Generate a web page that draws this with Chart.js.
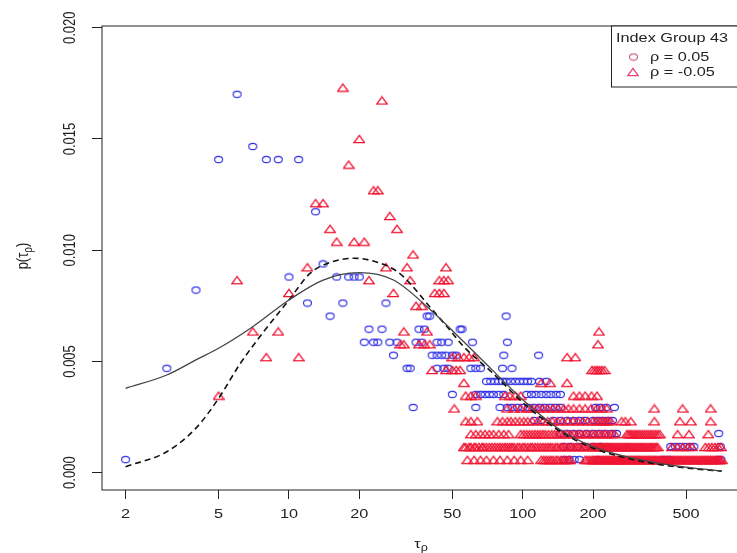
<!DOCTYPE html>
<html>
<head>
<meta charset="utf-8">
<script src="https://cdn.jsdelivr.net/npm/chart.js@4.4.1/dist/chart.umd.min.js"></script>
<style>
  html, body { margin: 0; padding: 0; background: #fff; overflow: hidden; }
  #wrap { width: 760px; height: 553px; }
</style>
</head>
<body>
<div id="wrap"><canvas id="chart" width="760" height="553"></canvas></div>
<script>
// axis ticks
const xTickValues = [2, 5, 10, 20, 50, 100, 200, 500];
const yTickValues = [0, 0.005, 0.01, 0.015, 0.02];
const yTickLabels = ['0.000', '0.005', '0.010', '0.015', '0.020'];

// rho = 0.05 (blue circles): [p, [tau, ...]] one row per level
const circleRows = [
    [0.017009, [6]],
    [0.014663, [7]],
    [0.014076, [5, 8, 9, 11]],
    [0.01173, [13]],
    [0.009384, [14]],
    [0.008798, [10, 16, 18, 19, 20]],
    [0.008211, [4]],
    [0.007625, [12, 17, 26]],
    [0.007038, [15, 39, 40, 85]],
    [0.006452, [22, 25, 36, 38, 54, 55]],
    [0.005865, [21, 23, 24, 27, 29, 35, 37, 43, 45, 48, 61, 86]],
    [0.005279, [28, 41, 43, 45, 47, 50, 52, 83, 117]],
    [0.004692, [3, 32, 33, 43, 46, 48, 60, 63, 66, 82, 90]],
    [0.004106, [70, 73, 76, 79, 82, 85, 89, 93, 97, 101, 105, 109, 118, 126]],
    [0.003519, [50, 63, 66, 69, 72, 75, 79, 83, 104, 109, 114, 120, 126, 132, 139, 145]],
    [0.002933, [34, 63, 80, 86, 90, 95, 100, 106, 112, 118, 124, 131, 138, 145, 205, 215, 228, 247]],
    [0.002346, [112, 120, 135, 145, 155, 165, 175, 185, 200, 210, 220, 232, 242]],
    [0.00176, [145, 155, 165, 175, 188, 200, 212, 225, 240, 252, 690]],
    [0.001173, [150, 160, 172, 185, 200, 215, 430, 450, 470, 495, 520, 540, 700]],
    [0.000587, [2, 150, 158, 166, 175, 209, 395, 410, 425, 680, 705]],
];

// rho = -0.05 (red triangles)
const triangleRows = [
    [0.01731, [17]],
    [0.016733, [25]],
    [0.015002, [20]],
    [0.013848, [18]],
    [0.012694, [23, 24]],
    [0.012117, [13, 14]],
    [0.01154, [27]],
    [0.010963, [15, 29]],
    [0.010386, [16, 19, 21]],
    [0.009809, [34]],
    [0.009232, [12, 26, 32, 47]],
    [0.008655, [6, 22, 33, 44, 46, 48]],
    [0.008078, [10, 28, 42, 44, 46]],
    [0.007501, [35, 37]],
    [0.006347, [7, 9, 31, 39, 212]],
    [0.00577, [30, 31, 36, 38, 40, 210]],
    [0.005193, [8, 11, 50, 53, 56, 59, 62, 155, 168]],
    [0.004616, [41, 47, 50, 52, 54, 198, 203, 208, 213, 218, 224]],
    [0.004039, [56, 120, 131, 155]],
    [0.003462, [5, 57, 60, 63, 84, 88, 93, 98, 165, 175, 185, 197, 208]],
    [0.002885, [51, 86, 92, 98, 104, 110, 116, 122, 128, 135, 142, 150, 157, 165, 175, 185, 196, 207, 218, 229, 366, 483, 637]],
    [0.002308, [57, 60, 64, 78, 82, 86, 89, 93, 97, 101, 105, 110, 116, 122, 128, 134, 141, 148, 156, 164, 172, 181, 190, 200, 207, 214, 220, 226, 232, 238, 265, 275, 290, 366, 470, 525, 637]],
    [0.001731, [60, 63, 66, 69, 72, 75, 79, 83, 87, 98, 101, 104, 107, 110, 113, 116, 119, 122, 125, 129, 133, 137, 141,
        145, 150, 155, 160, 166, 172, 178, 184, 190, 197, 204, 211, 218, 225, 232, 240, 248,
        279, 284, 289, 294, 300, 306, 312, 318, 325, 332, 339, 346, 354, 362, 370, 378, 386, 460, 515, 623]],
    [0.001154, [56, 57, 59, 60, 62, 63, 65, 67, 68, 70, 72, 74, 76, 78, 80, 82, 84, 86, 88, 90, 92, 95, 97, 100, 102, 105,
        108, 110, 113, 116, 119, 122, 125, 128, 131, 134, 138, 141, 145, 148, 152, 156, 160, 164, 168, 172, 176, 181, 185, 190, 195,
        200, 203, 206, 209, 212, 215, 218, 221, 224, 227, 230, 233, 236, 239, 242, 246, 250, 254, 258, 262, 266, 270, 274, 278,
        282, 286, 290, 295, 300, 305, 310, 315, 320, 325, 330, 336, 342, 348, 354, 360, 366, 372, 378,
        435, 460, 485, 510, 530, 605, 625, 645, 665, 685, 705]],
    [0.000577, [58, 62, 66, 70, 75, 80, 86, 92, 98, 105, 120, 123, 126, 129, 132, 135, 139, 142, 146, 150, 153, 157, 160,
        185, 189, 193, 197, 200, 203, 206, 209, 212, 215, 218, 221, 224, 227, 230, 233, 236, 239, 242, 245, 248, 251, 254,
        257, 260, 263, 266, 269, 272, 275, 278, 282, 286, 290, 294, 298, 302, 306, 310, 314, 318, 322, 327, 332, 337, 342,
        347, 352, 357, 362, 367, 372, 378, 384, 390, 396, 402, 408, 414, 420, 427, 434, 441, 448, 455, 462, 469, 476, 484,
        492, 500, 508, 516, 524, 532, 540, 549, 558, 567, 576, 585, 594, 603, 612, 621, 630, 640, 650, 660, 670, 680, 690, 700, 712]],
];

// fitted curves
const solidTau = [2, 3, 4, 5, 7, 10, 14, 20, 28, 39, 54, 74, 104, 145, 200, 277, 387, 541, 710];
const solidP = [0.00379, 0.00439, 0.00507, 0.00559, 0.00656, 0.00776, 0.00866, 0.00899, 0.00866, 0.00746, 0.00604, 0.00462, 0.00312, 0.00192, 0.00117, 0.00072, 0.00042, 0.0002, 0.00008];
const dashedTau = [2, 3, 4, 5, 6.2, 7.8, 10, 12.3, 15, 19, 24, 29, 33, 40, 47.5, 56, 63, 74, 104, 145, 200, 277, 387, 541, 710];
const dashedP = [0.00027, 0.00094, 0.002, 0.00334, 0.00492, 0.00634, 0.00776, 0.00896, 0.00945, 0.00964, 0.00945, 0.00905, 0.0085, 0.00746, 0.00656, 0.00566, 0.00515, 0.0045, 0.003, 0.00185, 0.0011, 0.00066, 0.00036, 0.00017, 0.00007];

const BLUE = 'rgb(45,45,230)';
const RED = 'rgb(240,20,50)';
const INK = '#222';
const FONT = '"Liberation Sans", Arial, sans-serif';
const STRETCH = 1.25; // the picture is a bit wider than tall

// R-like open markers, slightly stretched sideways
function markerCanvas(kind, color) {
    const c = document.createElement('canvas');
    if (kind === 'circle') { c.width = 11; c.height = 9; } else { c.width = 12; c.height = 10; }
    const g = c.getContext('2d');
    g.strokeStyle = color;
    g.lineWidth = kind === 'circle' ? 1.1 : 1.3;
    g.beginPath();
    if (kind === 'circle') {
        g.ellipse(5.5, 4.5, 4, 3.1, 0, 0, Math.PI * 2);
    } else {
        g.moveTo(6, 1.3); g.lineTo(11.2, 8.6); g.lineTo(0.8, 8.6); g.closePath();
    }
    g.stroke();
    return c;
}

const toPoints = rows => rows.flatMap(([p, taus]) => taus.map(t => ({ x: t, y: p })));
const toLine = (xs, ys) => xs.map((x, i) => ({ x, y: ys[i] }));

function label(ctx, s, x, y, rotate, align = 'center', size = 13) {
    ctx.save();
    ctx.translate(x, y);
    ctx.scale(STRETCH, 1);
    if (rotate) ctx.rotate(-Math.PI / 2);
    ctx.font = size + 'px ' + FONT;
    ctx.textAlign = align;
    ctx.textBaseline = 'middle';
    ctx.fillText(s, 0, 0);
    ctx.restore();
}

function subLabel(ctx, main, sub, tail, x, y, rotate) {
    ctx.save();
    ctx.translate(x, y);
    ctx.scale(STRETCH, 1);
    if (rotate) ctx.rotate(-Math.PI / 2);
    const big = '13px ' + FONT, small = '10px ' + FONT;
    ctx.font = big;
    const w1 = ctx.measureText(main).width, w3 = ctx.measureText(tail).width;
    ctx.font = small;
    const w2 = ctx.measureText(sub).width;
    let cx = -(w1 + w2 + w3) / 2;
    ctx.textAlign = 'left';
    ctx.textBaseline = 'middle';
    ctx.font = big; ctx.fillText(main, cx, 0); cx += w1;
    ctx.font = small; ctx.fillText(sub, cx, 4); cx += w2;
    ctx.font = big; ctx.fillText(tail, cx, 0);
    ctx.restore();
}

const circleMark = markerCanvas('circle', BLUE);
const triangleMark = markerCanvas('triangle', RED);
const legendCircle = markerCanvas('circle', 'rgb(205,95,125)');
const legendTriangle = markerCanvas('triangle', 'rgb(235,70,120)');

const rStyle = {
    id: 'rStyle',
    beforeDraw(chart) {
        const { ctx, width, height } = chart;
        ctx.save();
        ctx.fillStyle = '#fff';
        ctx.fillRect(0, 0, width, height);
        ctx.restore();
    },
    afterDraw(chart) {
        const { ctx, chartArea: a, scales: { x, y } } = chart;
        ctx.save();
        ctx.strokeStyle = INK;
        ctx.lineWidth = 1;
        ctx.strokeRect(a.left, a.top, a.right - a.left, a.bottom - a.top);
        ctx.fillStyle = INK;
        yTickValues.forEach((v, i) => label(ctx, yTickLabels[i], 71, y.getPixelForValue(v), true));
        xTickValues.forEach(v => label(ctx, String(v), x.getPixelForValue(v), 514, false));
        subLabel(ctx, 'p(τ', 'ρ', ')', 24, 256, true);
        subLabel(ctx, 'τ', 'ρ', '', 421, 544, false);

        // legend box, top right, runs off the picture like the original
        ctx.fillStyle = '#fff';
        ctx.fillRect(611.5, a.top, 160, 61);
        ctx.strokeRect(611.5, a.top, 160, 61);
        ctx.fillStyle = INK;
        label(ctx, 'Index Group 43', 616, 38.5, false, 'left');
        ctx.drawImage(legendCircle, 628, 52.5);
        ctx.drawImage(legendTriangle, 627, 67);
        label(ctx, 'ρ = 0.05', 650, 57, false, 'left');
        label(ctx, 'ρ = -0.05', 650, 72, false, 'left');
        ctx.restore();
    }
};

new Chart(document.getElementById('chart'), {
    type: 'scatter',
    data: {
        datasets: [
            {
                label: 'solid', data: toLine(solidTau, solidP), showLine: true, order: 0,
                borderColor: '#444', borderWidth: 1.3, pointRadius: 0,
                tension: 0.4, cubicInterpolationMode: 'monotone',
            },
            {
                label: 'dashed', data: toLine(dashedTau, dashedP), showLine: true, order: 0,
                borderColor: '#111', borderWidth: 1.6, borderDash: [6, 4], pointRadius: 0,
                tension: 0.4, cubicInterpolationMode: 'monotone',
            },
            {
                label: 'ρ = -0.05', data: toPoints(triangleRows), order: 1,
                pointStyle: triangleMark, pointRadius: 4, pointHoverRadius: 4,
            },
            {
                label: 'ρ = 0.05', data: toPoints(circleRows), order: 2,
                pointStyle: circleMark, pointRadius: 4, pointHoverRadius: 4,
            },
        ],
    },
    options: {
        responsive: false,
        animation: false,
        events: [],
        layout: { padding: { left: 0, top: 26, right: 16, bottom: 0 } },
        plugins: { legend: { display: false }, tooltip: { enabled: false } },
        scales: {
            x: {
                type: 'logarithmic', min: 1.585, max: 885, bounds: 'data',
                afterBuildTicks: s => { s.ticks = xTickValues.map(v => ({ value: v })); },
                afterFit: s => { s.height = 63; },
                ticks: { display: false },
                grid: { drawOnChartArea: false, drawTicks: true, tickLength: 9, color: INK },
                border: { display: false },
            },
            y: {
                type: 'linear', min: -0.00078, max: 0.02008, bounds: 'data',
                afterBuildTicks: s => { s.ticks = yTickValues.map(v => ({ value: v })); },
                afterFit: s => { s.width = 102; },
                ticks: { display: false },
                grid: { drawOnChartArea: false, drawTicks: true, tickLength: 10, color: INK },
                border: { display: false },
            },
        },
    },
    plugins: [rStyle],
});
</script>
</body>
</html>
